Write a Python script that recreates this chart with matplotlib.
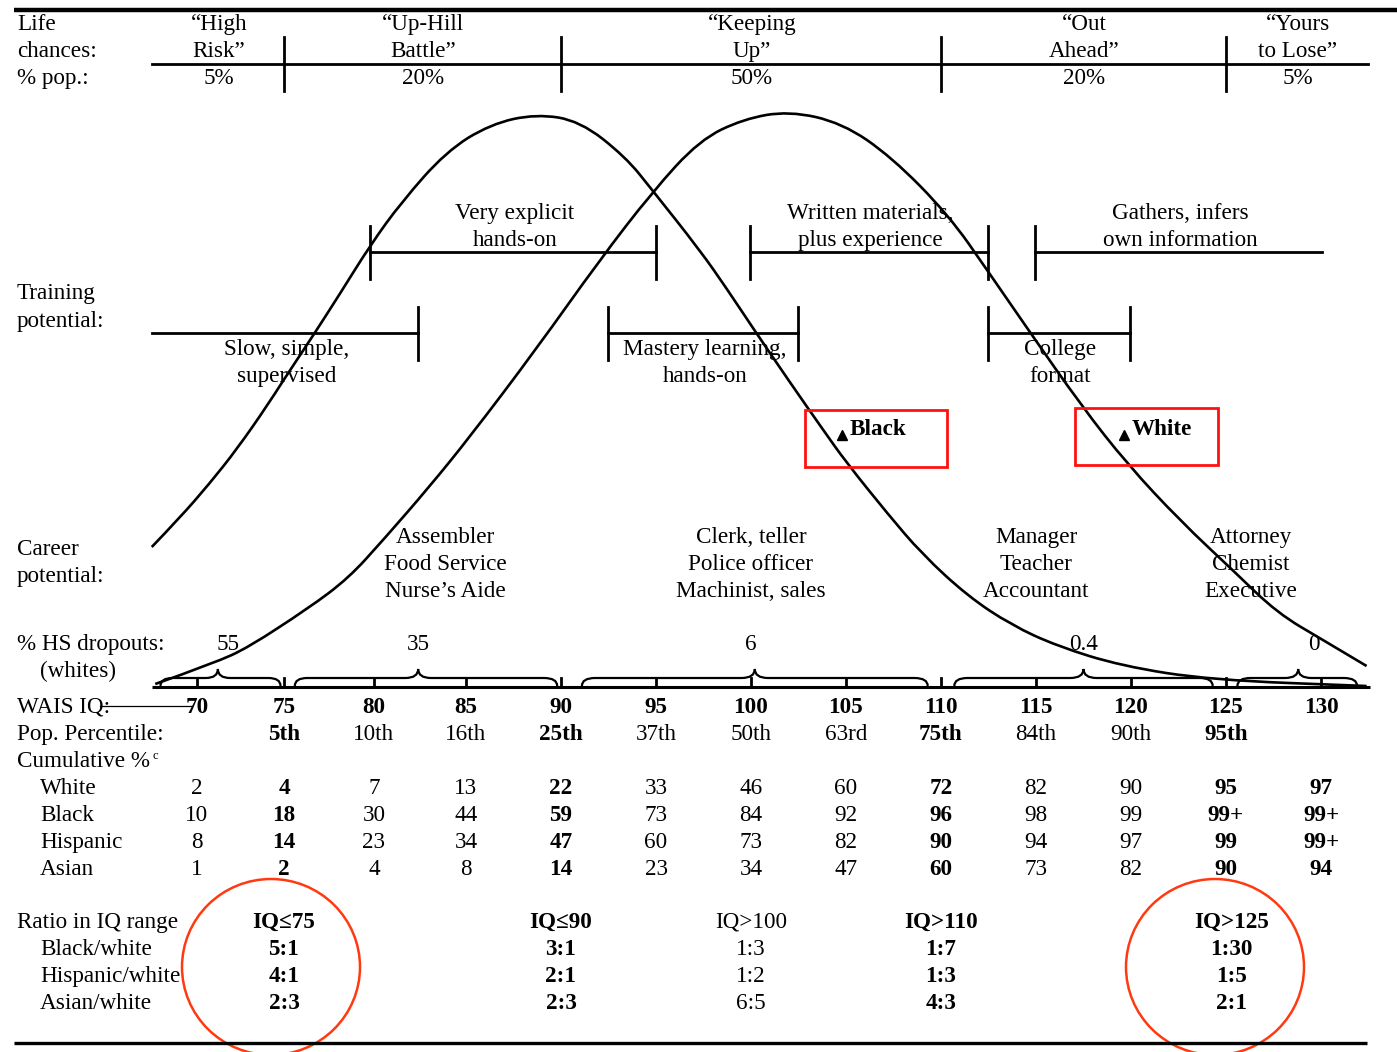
import numpy as np
import matplotlib
matplotlib.use("Agg")
import matplotlib.pyplot as plt
from matplotlib.path import Path
from matplotlib.patches import PathPatch, Rectangle, Ellipse
from matplotlib.transforms import Affine2D

plt.rcParams["font.family"] = ["Liberation Serif", "DejaVu Serif"]

# ---- data ----
iq_ticks = [70, 75, 80, 85, 90, 95, 100, 105, 110, 115, 120, 125, 130]
percentiles = ["", "5th", "10th", "16th", "25th", "37th", "50th", "63rd", "75th", "84th", "90th", "95th", ""]
bold_cols = [75, 90, 110, 125, 130]

cum_white = ["2", "4", "7", "13", "22", "33", "46", "60", "72", "82", "90", "95", "97"]
cum_black = ["10", "18", "30", "44", "59", "73", "84", "92", "96", "98", "99", "99+", "99+"]
cum_hispanic = ["8", "14", "23", "34", "47", "60", "73", "82", "90", "94", "97", "99", "99+"]
cum_asian = ["1", "2", "4", "8", "14", "23", "34", "47", "60", "73", "82", "90", "94"]

# bell curves: IQ, height above the IQ axis
black_iq = [67.4, 69.0, 70.7, 72.3, 74.1, 75.6, 76.6, 78.1, 79.8, 81.5, 83.9, 86.3, 88.7,
            91.0, 93.4, 94.8, 97.3, 98.7, 100.1, 102.0, 103.8, 105.0, 107.2, 109.0, 111.4,
            113.7, 116.1, 119.5, 124.2, 132.4]
black_h = [140, 169, 203, 238, 283, 324, 351, 393, 442, 485, 535, 563, 573,
           566, 530, 497, 437, 399, 359, 306, 257, 225, 173, 133, 91,
           62, 41, 21, 7, 1]
white_iq = [67.6, 71.0, 73.0, 76.3, 78.6, 80.5, 83.0, 85.2, 88.7, 92.0, 94.8, 97.3, 99.6,
            102.0, 104.8, 107.4, 110.4, 112.5, 114.6, 117.4, 119.8, 122.6, 125.4, 127.7,
            130.1, 132.4]
white_h = [3, 24, 40, 78, 109, 147, 200, 250, 338, 426, 495, 547, 568,
           576, 564, 530, 472, 415, 357, 281, 223, 166, 116, 74,
           47, 21]

life_labels = ["\u201cHigh\nRisk\u201d", "\u201cUp-Hill\nBattle\u201d", "\u201cKeeping\nUp\u201d",
               "\u201cOut\nAhead\u201d", "\u201cYours\nto Lose\u201d"]
life_pct = ["5%", "20%", "50%", "20%", "5%"]
life_bounds = [75, 90, 110, 125]

dropouts = ["55", "35", "6", "0.4", "0"]
dropout_iq = [71.8, 82.4, 100.0, 117.5, 129.6]
# brace ranges (IQ start, tip, end)
brace_ranges = [(67.9, 71.2, 74.8), (75.6, 82.4, 89.8), (91.1, 100.2, 109.3),
                (110.7, 117.5, 124.3), (125.6, 128.8, 131.9)]

careers = ["Assembler\nFood Service\nNurse\u2019s Aide", "Clerk, teller\nPolice officer\nMachinist, sales",
           "Manager\nTeacher\nAccountant", "Attorney\nChemist\nExecutive"]
career_iq = [83.9, 100.0, 115.0, 126.3]

ratio_heads = ["IQ\u226475", "IQ\u226490", "IQ>100", "IQ>110", "IQ>125"]
ratio_cols = [75, 90, 100, 110, 125]
ratio_bold = [True, True, False, True, True]
ratio_bw = ["5:1", "3:1", "1:3", "1:7", "1:30"]
ratio_hw = ["4:1", "2:1", "1:2", "1:3", "1:5"]
ratio_aw = ["2:3", "2:3", "6:5", "4:3", "2:1"]

# ---- page layout (pixel grid) ----
W, H = 1397, 1052
AXIS = 687
tick_px = [197, 284, 374, 466, 561, 656, 751, 846, 941, 1036, 1131, 1226, 1321]


def fwd(v):
    v = np.asarray(v, dtype=float)
    out = np.interp(v, iq_ticks, tick_px)
    out = np.where(v < 70, 197 + (v - 70) * 17.4, out)
    out = np.where(v > 130, 1321 + (v - 130) * 19.0, out)
    return out


def inv(p):
    p = np.asarray(p, dtype=float)
    out = np.interp(p, tick_px, iq_ticks)
    out = np.where(p < 197, 70 + (p - 197) / 17.4, out)
    out = np.where(p > 1321, 130 + (p - 1321) / 19.0, out)
    return out


def X(p):
    return float(inv(p))


def Y(p):
    return AXIS - p


fig = plt.figure(figsize=(W / 100, H / 100), dpi=100)
ax = fig.add_axes([0, 0, 1, 1])
ax.set_xscale("function", functions=(fwd, inv))
ax.set_xlim(X(0), X(W))
ax.set_ylim(Y(H), Y(0))
ax.axis("off")
page = Affine2D().scale(1, -1).translate(0, H)

FS = 16.7
lw = 2.0


def txt(x, y, s, ha="center", bold=False, size=FS):
    # y is the row centre; place on a baseline so bold/normal rows line up
    return ax.text(x, y - 0.33 * size * 100 / 72 + 1, s, ha=ha, va="baseline", fontsize=size,
                   fontweight="bold" if bold else "normal")


# frame lines
ax.plot([X(14), X(W)], [Y(10), Y(10)], color="black", lw=3.2, solid_capstyle="butt")
ax.plot([X(14), X(1367)], [Y(1043), Y(1043)], color="black", lw=2.4, solid_capstyle="butt")

# life chances header
txt(X(17), Y(23), "Life", ha="left")
txt(X(17), Y(50), "chances:", ha="left")
txt(X(17), Y(77), "% pop.:", ha="left")
ax.plot([X(152), X(1368)], [Y(64), Y(64)], color="black", lw=lw)
for b in life_bounds:
    ax.plot([b, b], [Y(37), Y(91)], color="black", lw=lw)
for lab, pc, cx in zip(life_labels, life_pct, [219, 423, 752, 1084, 1298]):
    a, b_ = lab.split("\n")
    txt(X(cx), Y(23), a)
    txt(X(cx), Y(50), b_)
    txt(X(cx), Y(77), pc)

# training potential
txt(X(17), Y(292), "Training", ha="left")
txt(X(17), Y(320), "potential:", ha="left")


def bracket(x0, x1, y, tl, tr, ttop, tbot):
    ax.plot([X(x0), X(x1)], [Y(y), Y(y)], color="black", lw=lw)
    if tl:
        ax.plot([X(x0), X(x0)], [Y(ttop), Y(tbot)], color="black", lw=lw)
    if tr:
        ax.plot([X(x1), X(x1)], [Y(ttop), Y(tbot)], color="black", lw=lw)


bracket(370, 656, 252, True, True, 226, 279)
bracket(750, 988, 252, True, True, 226, 279)
bracket(1035, 1322, 252, True, False, 226, 279)
bracket(152, 418, 333, False, True, 307, 360)
bracket(608, 798, 333, True, True, 307, 360)
bracket(988, 1130, 333, True, True, 307, 360)

txt(X(515), Y(212), "Very explicit")
txt(X(515), Y(239), "hands-on")
txt(X(870), Y(212), "Written materials,")
txt(X(870), Y(239), "plus experience")
txt(X(1180), Y(212), "Gathers, infers")
txt(X(1180), Y(239), "own information")
txt(X(287), Y(348), "Slow, simple,")
txt(X(287), Y(375), "supervised")
txt(X(705), Y(348), "Mastery learning,")
txt(X(705), Y(375), "hands-on")
txt(X(1060), Y(348), "College")
txt(X(1060), Y(375), "format")


# curves, drawn as a smooth quadratic path through the read points
def smooth_curve(xs, ys):
    pts = list(zip(xs, ys))
    verts = [pts[0]]
    codes = [Path.MOVETO]
    for i in range(1, len(pts) - 1):
        mid = ((pts[i][0] + pts[i + 1][0]) / 2, (pts[i][1] + pts[i + 1][1]) / 2)
        verts += [pts[i], mid]
        codes += [Path.CURVE3, Path.CURVE3]
    verts.append(pts[-1])
    codes.append(Path.LINETO)
    ax.add_patch(PathPatch(Path(verts, codes), fill=False, lw=1.9, edgecolor="black"))


smooth_curve(black_iq, black_h)
smooth_curve(white_iq, white_h)

# group labels with red boxes
for (bx0, by0, bx1, by1), name, mx in [((805, 410, 947, 467), "Black", 842),
                                       ((1075, 408, 1218, 465), "White", 1124)]:
    ax.add_patch(Rectangle((bx0, by0), bx1 - bx0, by1 - by0, transform=page,
                           fill=False, edgecolor="#ff1010", lw=2.0))
    ax.plot([X(mx)], [Y(435)], marker="^", color="black", ms=6.5)
    txt(X(mx + 8), Y(428), name, ha="left", bold=True)

# career potential
txt(X(17), Y(548), "Career", ha="left")
txt(X(17), Y(575), "potential:", ha="left")
for c, cx in zip(careers, career_iq):
    for k, line in enumerate(c.split("\n")):
        txt(cx, Y(536 + 27 * k), line)

# dropouts
txt(X(17), Y(643), "% HS dropouts:", ha="left")
txt(X(40), Y(670), "(whites)", ha="left")
for d, dx in zip(dropouts, dropout_iq):
    txt(dx, Y(643), d)


def brace(x0, xm, x1):
    h0, h1, h2 = 1, 9, 18
    r = 0.7
    verts = [(x0, h0), (x0, h1), (x0 + r, h1),
             (xm - r, h1), (xm, h1), (xm, h2),
             (xm, h1), (xm + r, h1),
             (x1 - r, h1), (x1, h1), (x1, h0)]
    codes = [Path.MOVETO, Path.CURVE3, Path.CURVE3,
             Path.LINETO, Path.CURVE3, Path.CURVE3,
             Path.CURVE3, Path.CURVE3,
             Path.LINETO, Path.CURVE3, Path.CURVE3]
    ax.add_patch(PathPatch(Path(verts, codes), fill=False, lw=1.6, edgecolor="black"))


for s, m, e in brace_ranges:
    brace(s, m, e)

# IQ axis
ax.plot([X(152), X(1370)], [0, 0], color="black", lw=2.2, solid_capstyle="butt")
for t in iq_ticks:
    ax.plot([t, t], [0, 9], color="black", lw=2.0)

txt(X(17), Y(706), "WAIS IQ:", ha="left")
ax.plot([X(100), X(192)], [Y(706), Y(706)], color="black", lw=0.9)
for t in iq_ticks:
    txt(t, Y(706), str(t), bold=True)

txt(X(17), Y(733), "Pop. Percentile:", ha="left")
for t, p in zip(iq_ticks, percentiles):
    txt(t, Y(733), p, bold=t in bold_cols)

cum = txt(X(17), Y(760), "Cumulative %", ha="left")
ax.annotate("c", xy=(1, 0.75), xycoords=cum, xytext=(1.5, 0), textcoords="offset points",
            fontsize=9, ha="left", va="center")

for row, (name, vals) in enumerate([("White", cum_white), ("Black", cum_black),
                                    ("Hispanic", cum_hispanic), ("Asian", cum_asian)]):
    y = Y(787 + 27 * row)
    txt(X(40), y, name, ha="left")
    for t, v in zip(iq_ticks, vals):
        txt(t, y, v, bold=t in bold_cols)

# ratios
txt(X(17), Y(921), "Ratio in IQ range", ha="left")
txt(X(40), Y(948), "Black/white", ha="left")
txt(X(40), Y(975), "Hispanic/white", ha="left")
txt(X(40), Y(1002), "Asian/white", ha="left")
for c, hd, bw, hw, aw, bo in zip(ratio_cols, ratio_heads, ratio_bw, ratio_hw, ratio_aw, ratio_bold):
    cx = c + 0.3 if c == 125 else c
    txt(cx, Y(921), hd, bold=bo)
    txt(cx, Y(948), bw, bold=bo)
    txt(cx, Y(975), hw, bold=bo)
    txt(cx, Y(1002), aw, bold=bo)

# red ellipses
for cx, cy in [(271, 967), (1215, 967)]:
    ax.add_patch(Ellipse((cx, cy), 178, 176, transform=page, fill=False,
                         edgecolor="#ff3a10", lw=1.8))

fig.savefig("out.png", dpi=100)
